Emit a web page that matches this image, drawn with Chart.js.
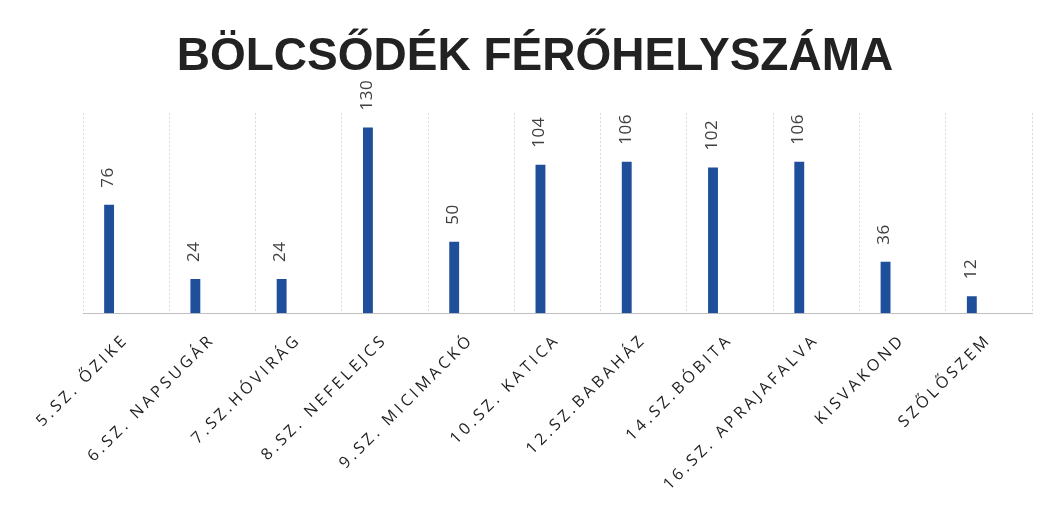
<!DOCTYPE html>
<html lang="hu">
<head>
    <meta charset="UTF-8">
    <title>Bölcsődék férőhelyszáma</title>
    <script src="https://cdn.jsdelivr.net/npm/chart.js@4"></script>
</head>
<style>
    html, body { margin: 0; padding: 0; background: #ffffff; }
    .chart { width: 1052px; height: 521px; }
</style>
<body>
    <div class="chart">
        <canvas id="myChart"></canvas>
    </div>

<script>
  const chartTitle = 'BÖLCSŐDÉK FÉRŐHELYSZÁMA'
  const categories = [
    '5.SZ. ŐZIKE', '6.SZ. NAPSUGÁR', '7.SZ.HÓVIRÁG', '8.SZ. NEFELEJCS',
    '9.SZ. MICIMACKÓ', '10.SZ. KATICA', '12.SZ.BABAHÁZ', '14.SZ.BÓBITA',
    '16.SZ. APRAJAFALVA', 'KISVAKOND', 'SZŐLŐSZEM'
  ]
  const places = [76, 24, 24, 130, 50, 104, 106, 102, 106, 36, 12]
  // the original has an empty second series, so the bars sit left of the category centre
  const emptySeries = categories.map(function () { return null })

  const tickSpacing = '3.5px'

  // the category labels in the original are widely spaced, chart.js has no option for that
  const spacedTicks = {
    id: 'spacedTicks',
    beforeLayout(chart) { chart.ctx.letterSpacing = tickSpacing },
    afterLayout(chart) {
      chart.ctx.letterSpacing = '0px'
      const scale = chart.scales.x
      if (scale && !scale._spaced) {
        const orig = scale.drawLabels
        scale.drawLabels = function (area) {
          this.ctx.save()
          this.ctx.letterSpacing = tickSpacing
          orig.call(this, area)
          this.ctx.restore()
        }
        scale._spaced = true
      }
    }
  }

  // value labels above each bar, rotated like the original
  const valueLabels = {
    id: 'valueLabels',
    afterDatasetsDraw(chart) {
      const ctx = chart.ctx
      const meta = chart.getDatasetMeta(0)
      ctx.save()
      ctx.font = '17px "Open Sans"'
      ctx.letterSpacing = '0.5px'
      ctx.fillStyle = '#404040'
      ctx.textAlign = 'left'
      ctx.textBaseline = 'middle'
      meta.data.forEach(function (bar, i) {
        ctx.save()
        ctx.translate(bar.x - 1, bar.y - 17)
        ctx.rotate(-Math.PI / 2)
        ctx.fillText(String(places[i]), 0, 0)
        ctx.restore()
      })
      ctx.restore()
    }
  }

  const ctx = document.getElementById('myChart').getContext('2d')
  const chart = new Chart(ctx, {
    type: 'bar',
    data: {
      labels: categories,
      datasets: [{
        data: places,
        backgroundColor: '#1f4e9a'
      }, {
        data: emptySeries,
        backgroundColor: '#1f4e9a'
      }]
    },
    options: {
      responsive: true,
      maintainAspectRatio: false,
      animation: false,
      layout: { padding: { left: 38, right: 20, top: 0, bottom: 10 } },
      datasets: {
        bar: { categoryPercentage: 0.79, barPercentage: 0.29 }
      },
      plugins: {
        legend: { display: false },
        tooltip: { enabled: false },
        title: {
          display: true,
          text: chartTitle,
          color: '#222222',
          font: { family: '"Liberation Sans", Arial', size: 46, weight: 'bold' },
          padding: { top: 30, bottom: 28 }
        }
      },
      scales: {
        x: {
          grid: { color: '#d9d9d9', drawTicks: false, tickLength: 0 },
          border: { color: '#bfbfbf', dash: [2, 2] },
          ticks: {
            color: '#222222',
            font: { family: '"Open Sans"', size: 16 },
            maxRotation: 45,
            minRotation: 45,
            labelOffset: 0,
            padding: 17
          }
        },
        y: {
          min: 0,
          max: 140,
          grid: { display: false },
          border: { display: false },
          ticks: { display: false },
          // empty band on the left, keeps the plot where the original has it
          afterFit(scale) { scale.width = 45 }
        }
      }
    },
    plugins: [spacedTicks, valueLabels]
  })
</script>
</body>
</html>
